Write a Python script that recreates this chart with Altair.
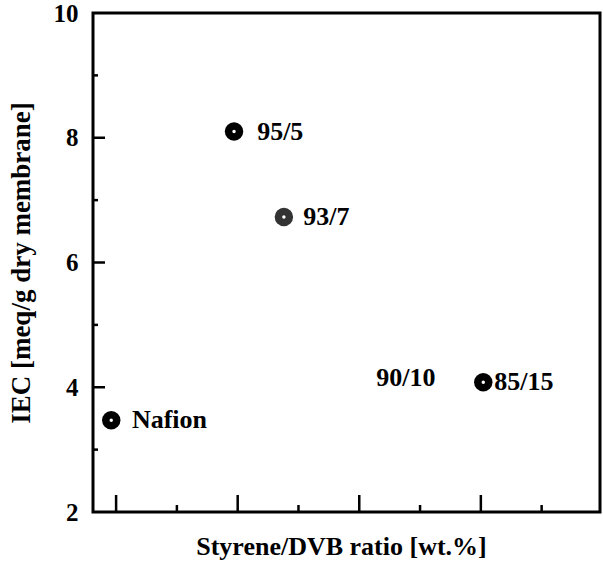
import altair as alt
import pandas as pd

# Data
names = ["Nafion", "95/5", "93/7", "85/15"]
pos_x = [0.96, 1.97, 2.38, 4.02]
iec = [3.47, 8.10, 6.73, 4.08]
marker_color = ["black", "black", "#333333", "black"]
label_x = [1.13, 2.16, 2.54, 4.11]

extra_label = ["90/10"]
extra_x = [3.14]
extra_y = [4.15]

x_major = [1, 2, 3, 4]
x_minor = [1.5, 2.5, 3.5, 4.5]
y_major = [4, 6, 8]
y_minor = [3, 5, 7, 9]
y_labels = [2, 4, 6, 8, 10]

FONT = "Liberation Serif"
FS = 25
XDOM = [0.81, 4.98]
YDOM = [2, 10]

pts = pd.DataFrame({"name": names, "x": pos_x, "y": iec, "c": marker_color})
lab = pd.DataFrame({
    "name": names + extra_label,
    "x": label_x + extra_x,
    "y": iec + extra_y,
})

xs = alt.Scale(domain=XDOM, nice=False, zero=False)
ys = alt.Scale(domain=YDOM, nice=False, zero=False)

x_axis = alt.Axis(title="Styrene/DVB ratio [wt.%]", labels=False, ticks=False, tickSize=0,
                  domain=False, grid=False, titleFont=FONT, titleFontSize=26,
                  titleFontWeight="bold", titleColor="black", titlePadding=21, titleX=248)
y_axis = alt.Axis(title="IEC [meq/g dry membrane]", values=y_labels, ticks=False, tickSize=0,
                  domain=False, grid=False, labelFont=FONT, labelFontSize=FS,
                  labelFontWeight="bold", labelColor="black", labelPadding=15,
                  titleFont=FONT, titleFontSize=27, titleFontWeight="bold",
                  titleColor="black", titlePadding=18)


def X(f):
    return alt.X(f, type="quantitative", scale=xs, axis=x_axis)


def Y(f):
    return alt.Y(f, type="quantitative", scale=ys, axis=y_axis)


outer = alt.Chart(pts).mark_circle(size=340, opacity=1).encode(
    x=X("x"), y=Y("y"), color=alt.Color("c:N", scale=None)
)
inner = alt.Chart(pts).mark_circle(size=12, color="white", opacity=1).encode(
    x=X("x"), y=Y("y")
)
labels = alt.Chart(lab).mark_text(align="left", baseline="middle", font=FONT, fontSize=26,
                                  fontWeight="bold", color="black").encode(
    x=X("x"), y=Y("y"), text="name:N"
)

H = 499
xmaj = alt.Chart(pd.DataFrame({"x": x_major})).mark_rule(color="black", strokeWidth=2.5).encode(
    x=X("x"), y=alt.value(H), y2=alt.value(H - 17))
xmin = alt.Chart(pd.DataFrame({"x": x_minor})).mark_rule(color="black", strokeWidth=2.5).encode(
    x=X("x"), y=alt.value(H), y2=alt.value(H - 7))
ymaj = alt.Chart(pd.DataFrame({"y": y_major})).mark_rule(color="black", strokeWidth=2.5).encode(
    y=Y("y"), x=alt.value(0), x2=alt.value(12))
ymin = alt.Chart(pd.DataFrame({"y": y_minor})).mark_rule(color="black", strokeWidth=2.5).encode(
    y=Y("y"), x=alt.value(0), x2=alt.value(5))

chart = alt.layer(outer, inner, labels, xmaj, xmin, ymaj, ymin).properties(
    width=507, height=H,
    autosize=alt.AutoSizeParams(type="none"),
    padding={"left": 93, "top": 13, "right": 3, "bottom": 62},
    background="white",
).configure_view(stroke="black", strokeWidth=3)

chart.save("out.html", embed_options={"renderer": "svg", "actions": False})
